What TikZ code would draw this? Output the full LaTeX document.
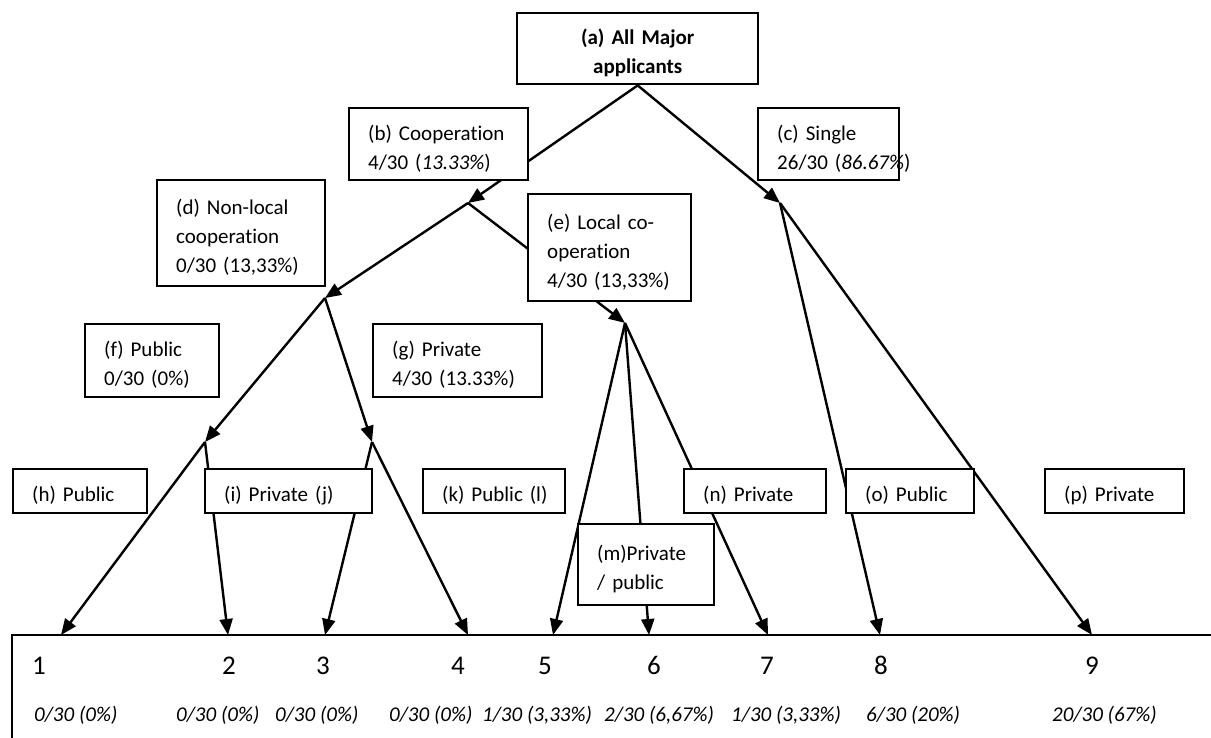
\documentclass[tikz,border=0pt]{standalone}
\usepackage{fontspec}
\setmainfont[Ligatures=CommonOff]{Carlito}
\usepackage{tikz}
\usetikzlibrary{arrows.meta, positioning}

\newcommand{\boxfont}{\fontsize{21}{29}\selectfont}
\newcommand{\numfont}{\fontsize{27}{32}\selectfont}

\begin{document}
\begin{tikzpicture}[
    x=1pt, y=-1pt,
    box/.style={draw, line width=2.4pt, fill=white, anchor=north west, align=left, inner xsep=19pt, inner ysep=0pt, font=\boxfont, execute at begin node={\rule{0pt}{24pt}}},
    link/.style={line width=2.4pt, -{Triangle[length=16pt, width=13pt]}},
    count/.style={font=\numfont, anchor=base, inner sep=0pt},
    share/.style={anchor=base west, font=\boxfont\itshape, inner sep=0pt}
]
    \useasboundingbox (0,0) rectangle (1211,738);

    \node[box, align=center, text width=203pt, minimum height=71pt, font=\boxfont\bfseries] (a) at (516,12) {(a) All Major\\applicants};

    % branching points
    \coordinate (coop) at (468,203);
    \coordinate (single) at (780,203);
    \coordinate (nonlocal) at (325,298);
    \coordinate (local) at (625,323);
    \coordinate (nlpublic) at (205,442);
    \coordinate (nlprivate) at (372,442);
    \foreach \i/\x in {1/61, 2/228, 3/325, 4/468, 5/553, 6/649, 7/768, 8/880, 9/1092}
        \coordinate (t\i) at (\x,635);

    % connectors
    \draw[link] (a.south) -- (coop);
    \draw[link] (a.south) -- (single);
    \draw[link] (coop) -- (nonlocal);
    \draw[link] (coop) -- (local);
    \draw[link] (nonlocal) -- (nlpublic);
    \draw[link] (nonlocal) -- (nlprivate);
    \draw[link] (nlpublic) -- (t1);
    \draw[link] (nlpublic) -- (t2);
    \draw[link] (nlprivate) -- (t3);
    \draw[link] (nlprivate) -- (t4);
    \draw[link] (local) -- (t5);
    \draw[link] (local) -- (t6);
    \draw[link] (local) -- (t7);
    \draw[link] (single) -- (t8);
    \draw[link] (single) -- (t9);

    % category boxes
    \node[box, text width=141pt, minimum height=72pt] (b) at (348,107) {(b) Cooperation\\4/30 (\textit{13.33\%})};
    \node[box, text width=103pt, minimum height=72pt] (c) at (757,107) {(c) Single\\\mbox{26/30 (\textit{86.67\%})}};
    \node[box, text width=130pt, minimum height=106pt] (d) at (156,179) {(d) Non-local\\cooperation\\0/30 (13,33\%)};
    \node[box, text width=125pt, minimum height=107pt] (e) at (527,193) {(e) Local co-\\operation\\\mbox{4/30 (13,33\%)}};
    \node[box, text width=96pt, minimum height=73pt] (f) at (84,323) {(f) Public\\0/30 (0\%)};
    \node[box, text width=131pt, minimum height=73pt] (g) at (372,323) {(g) Private\\4/30 (13.33\%)};
    \node[box, text width=96pt, minimum height=44pt] (h) at (12,468) {(h) Public};
    \node[box, text width=129pt, minimum height=44pt] (i) at (204,468) {(i) Private (j)};
    \node[box, text width=104pt, minimum height=44pt] (k) at (422,468) {\mbox{(k) Public (l)}};
    \node[box, text width=98pt, minimum height=81pt] (m) at (577,523) {(m)Private\\/ public};
    \node[box, text width=104pt, minimum height=44pt] (n) at (683,468) {(n) Private};
    \node[box, text width=90pt, minimum height=44pt] (o) at (845,468) {(o) Public};
    \node[box, text width=101pt, minimum height=44pt] (p) at (1044,468) {(p) Private};

    % outcome frame
    \draw[line width=2.4pt] (1211,635) -- (12,635) -- (12,738);
    \foreach \i/\x in {1/39, 2/229, 3/323, 4/458, 5/545, 6/654, 7/767, 8/881, 9/1092}
        \node[count] (n\i) at (\x,674) {\i};
    \node[share] (s1) at (34,721) {0/30 (0\%)};
    \node[share] (s2) at (176,721) {0/30 (0\%)};
    \node[share] (s3) at (275,721) {0/30 (0\%)};
    \node[share] (s4) at (389,721) {0/30 (0\%)};
    \node[share] (s5) at (482,721) {1/30 (3,33\%)};
    \node[share] (s6) at (604,721) {2/30 (6,67\%)};
    \node[share] (s7) at (731,721) {1/30 (3,33\%)};
    \node[share] (s8) at (866,721) {6/30 (20\%)};
    \node[share] (s9) at (1052,721) {20/30 (67\%)};
\end{tikzpicture}
\end{document}
